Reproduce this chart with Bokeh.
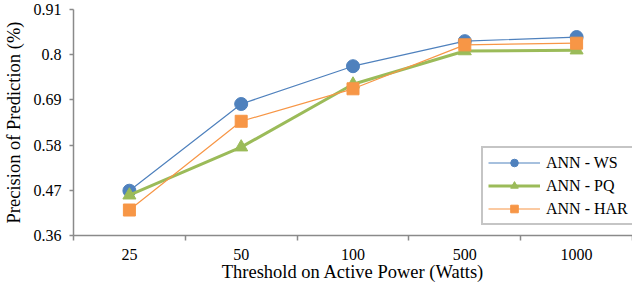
from bokeh.plotting import figure
from bokeh.models import FixedTicker, Range1d, Legend, LegendItem, NumeralTickFormatter
from bokeh.embed import file_html
from bokeh.resources import INLINE

categories = ["25", "50", "100", "500", "1000"]
ann_ws = [0.469, 0.680, 0.772, 0.833, 0.843]
ann_pq = [0.458, 0.575, 0.728, 0.809, 0.811]
ann_har = [0.422, 0.638, 0.717, 0.824, 0.828]
y_ticks = [0.36, 0.47, 0.58, 0.69, 0.80, 0.91]

FONT = "Liberation Serif"
AXIS_COLOR = "#8a8a8a"

xs = [i + 0.5 for i in range(len(categories))]
boundaries = list(range(len(categories) + 1))

p = figure(width=632, height=284, output_backend="svg", toolbar_location=None,
           x_range=Range1d(0, len(categories)), y_range=Range1d(y_ticks[0], y_ticks[-1]),
           min_border_left=71, min_border_right=0, min_border_top=9, min_border_bottom=45)
p.outline_line_color = None
p.xgrid.visible = False
p.ygrid.visible = False
p.background_fill_color = "white"
p.border_fill_color = "white"

series = [
    ("ANN - WS", ann_ws, "#4F81BD", 1.2, "circle", 13),
    ("ANN - PQ", ann_pq, "#9BBB59", 3, "triangle", 13),
    ("ANN - HAR", ann_har, "#F79646", 1.2, "square", 12),
]
items = []
for name, vals, color, lw, marker, size in series:
    l = p.line(xs, vals, line_color=color, line_width=lw)
    s = p.scatter(xs, vals, marker=marker, size=size, fill_color=color, line_color=color)
    items.append(LegendItem(label=name, renderers=[l, s]))

legend = Legend(items=items, location=(408, 10), orientation="vertical")
legend.label_text_font = FONT
legend.label_text_font_size = "16px"
legend.label_text_color = "black"
legend.border_line_color = "#8c8c8c"
legend.border_line_width = 2
legend.background_fill_color = "white"
legend.background_fill_alpha = 1
legend.padding = 5
legend.spacing = 4
legend.glyph_width = 52
legend.glyph_height = 19
legend.label_height = 19
legend.label_standoff = 6
legend.margin = 0
p.add_layout(legend)

# X axis
xa = p.xaxis[0]
xa.ticker = FixedTicker(ticks=xs, minor_ticks=boundaries)
xa.major_label_overrides = {x: c for x, c in zip(xs, categories)}
xa.major_tick_line_color = None
xa.major_tick_in = 0
xa.major_tick_out = 0
xa.minor_tick_in = 0
xa.minor_tick_out = 5
xa.minor_tick_line_color = AXIS_COLOR
xa.minor_tick_line_width = 1.5
xa.axis_line_color = AXIS_COLOR
xa.axis_line_width = 1.5
xa.major_label_text_font = FONT
xa.major_label_text_font_size = "16px"
xa.major_label_text_color = "black"
xa.major_label_standoff = 8
xa.axis_label = "Threshold on Active Power (Watts)"
xa.axis_label_text_font = FONT
xa.axis_label_text_font_size = "18.5px"
xa.axis_label_text_font_style = "normal"
xa.axis_label_text_color = "black"
xa.axis_label_standoff = -1

# Y axis
ya = p.yaxis[0]
ya.ticker = FixedTicker(ticks=y_ticks, minor_ticks=[])
ya.formatter = NumeralTickFormatter(format="0.[00]")
ya.major_tick_in = 0
ya.major_tick_out = 4
ya.major_tick_line_color = AXIS_COLOR
ya.major_tick_line_width = 1.5
ya.axis_line_color = AXIS_COLOR
ya.axis_line_width = 1.5
ya.major_label_text_font = FONT
ya.major_label_text_font_size = "16px"
ya.major_label_text_color = "black"
ya.major_label_standoff = 8
ya.axis_label = "Precision of Prediction (%)"
ya.axis_label_text_font = FONT
ya.axis_label_text_font_size = "18.5px"
ya.axis_label_text_font_style = "normal"
ya.axis_label_text_color = "black"
ya.axis_label_standoff = 7

open("out.html", "w").write(file_html(p, INLINE))
